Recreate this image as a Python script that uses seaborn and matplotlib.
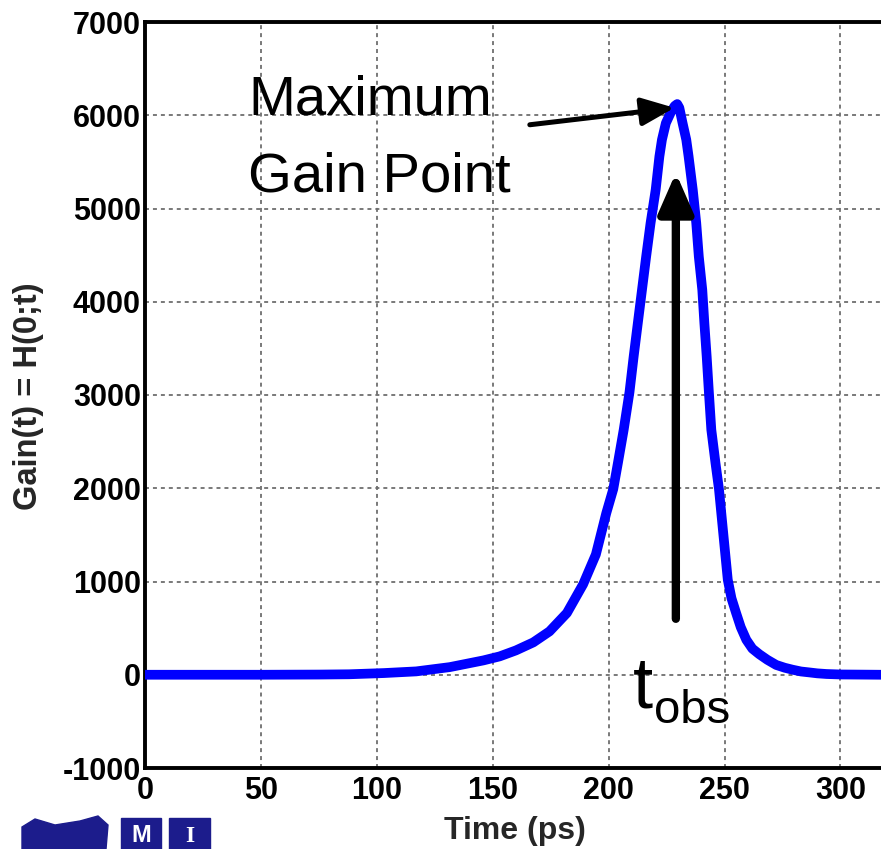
import matplotlib
matplotlib.use("Agg")
import matplotlib.pyplot as plt
import matplotlib.patches as mpatches
import seaborn as sns
import pandas as pd

# ---- data ----
time_ps = [0, 50, 75, 88, 103, 117, 131.5, 146, 153, 160, 167.5, 174.5, 182, 189,
           194.5, 199, 202, 204, 206.5, 209, 210.8, 212.6, 214.4, 216.2, 218.1,
           220.3, 221.9, 223, 224.7, 227, 228.5, 229.6, 230.5, 231.9, 233.5, 234.5,
           236.3, 237.8, 238.9, 240.4, 241.3, 242.3, 243.2, 244.3, 246.1, 247.6,
           248.6, 250, 251.4, 253, 255, 257, 259.4, 262, 265, 268.5, 272.3, 276,
           279.4, 283, 286.6, 290, 294, 300, 317.5]
gain = [0, 0, 2, 5, 18, 36, 82, 154, 197, 261, 347, 465, 662, 970,
        1290, 1734, 1991, 2270, 2627, 3030, 3413, 3772, 4129, 4486, 4844,
        5201, 5558, 5737, 5916, 6040, 6100, 6120, 6080, 5916, 5737, 5558,
        5201, 4844, 4486, 4129, 3772, 3413, 3050, 2627, 2270, 1991,
        1734, 1376, 1019, 820, 662, 510, 375, 280, 220, 160, 105, 75,
        54, 35, 25, 15, 8, 3, 0]
x_ticks = [0, 50, 100, 150, 200, 250, 300]
y_ticks = [-1000, 0, 1000, 2000, 3000, 4000, 5000, 6000, 7000]

df = pd.DataFrame({"Time (ps)": time_ps, "Gain": gain})

sns.set_theme(style="white")
plt.rcParams["font.family"] = ["Liberation Sans", "DejaVu Sans"]

fig = plt.figure(figsize=(8.81, 8.49), dpi=100)
ax = fig.add_axes([145 / 881, 1 - 768 / 849, (881 - 145) / 881, (768 - 22) / 849])

sns.lineplot(data=df, x="Time (ps)", y="Gain", ax=ax, color="#0000ff",
             linewidth=7, zorder=3)

ax.set_xlim(0, 317.5)
ax.set_ylim(-1000, 7000)
ax.set_xticks(x_ticks)
ax.set_yticks(y_ticks)
ax.set_xticklabels([str(v) for v in x_ticks], fontsize=22, fontweight="bold")
ax.set_yticklabels([str(v) for v in y_ticks], fontsize=22, fontweight="bold")
ax.tick_params(axis="both", direction="in", length=7, width=1.5, color="black",
               pad=3, labelcolor="black")
ax.tick_params(axis="x", pad=6)

ax.grid(True, color="#6e6e6e", linestyle=(0, (2.2, 2.2)), linewidth=1.3)
for s in ["left", "bottom", "top"]:
    ax.spines[s].set_visible(True)
    ax.spines[s].set_color("black")
    ax.spines[s].set_linewidth(2.8)
ax.spines["right"].set_visible(False)

ax.set_xlabel("Time (ps)", fontsize=23, fontweight="bold")
ax.set_ylabel("Gain(t) = H(0;t)", fontsize=23.5, fontweight="bold")
ax.xaxis.set_label_coords((515 - 145) / 736, -0.065)
ax.yaxis.set_label_coords((44 - 145) / 736, (768 - 396) / 746)

# annotation: Maximum Gain Point
ax.annotate("", xy=(228.4, 6080), xytext=(166, 5898),
            arrowprops=dict(arrowstyle="-|>,head_length=2.0,head_width=0.85",
                            mutation_scale=10, color="black", lw=3.6,
                            shrinkA=0, shrinkB=0),
            zorder=5)
ax.text(44.4, 6005, "Maximum", fontsize=40.5, ha="left", va="baseline",
        color="black", zorder=5)
ax.text(44.4, 5180, "Gain Point", fontsize=40.5, ha="left", va="baseline",
        color="black", zorder=5)

# annotation: t_obs vertical arrow
ax.annotate("", xy=(229, 5383), xytext=(229, 600),
            arrowprops=dict(arrowstyle="-|>,head_length=2.4,head_width=1.05",
                            mutation_scale=10, color="black", lw=6,
                            shrinkA=0, shrinkB=0),
            zorder=5)
ax.text(210.5, -350, "t", fontsize=52, ha="left", va="baseline", color="black", zorder=5)
ax.text(219.5, -520, "obs", fontsize=34, ha="left", va="baseline", color="black", zorder=5)

# logo approximation (bottom-left)
blue = "#1c1c8c"
fig.patches.append(mpatches.Rectangle((121 / 881, 0), 40 / 881, 31 / 849,
                                      transform=fig.transFigure, color=blue))
fig.patches.append(mpatches.Rectangle((169 / 881, 0), 41 / 881, 31 / 849,
                                      transform=fig.transFigure, color=blue))
fig.text(141 / 881, 2 / 849, "M", color="white", fontsize=17, fontweight="bold",
         ha="center", va="bottom")
fig.text(189.5 / 881, 2 / 849, "I", color="white", fontsize=17, fontweight="bold",
         ha="center", va="bottom", family="Liberation Serif")
crest = mpatches.Polygon([(22 / 881, 0), (22 / 881, 22 / 849), (35 / 881, 30 / 849),
                          (55 / 881, 24 / 849), (80 / 881, 28 / 849), (98 / 881, 33 / 849),
                          (108 / 881, 24 / 849), (106 / 881, 0)],
                         closed=True, transform=fig.transFigure, color=blue)
fig.patches.append(crest)

fig.savefig("out.png", dpi=100)
